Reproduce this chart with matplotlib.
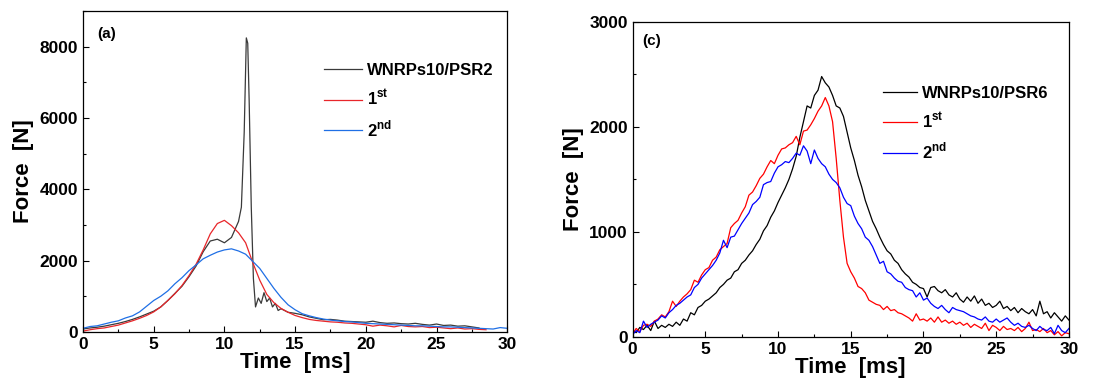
import numpy as np
import matplotlib
matplotlib.use("Agg")
import matplotlib.pyplot as plt
from matplotlib.ticker import MultipleLocator

plt.rcParams['font.family'] = ['Liberation Sans', 'DejaVu Sans']
plt.rcParams['font.weight'] = 'bold'
plt.rcParams['mathtext.fontset'] = 'custom'
plt.rcParams['mathtext.bf'] = 'Liberation Sans:bold'
plt.rcParams['mathtext.rm'] = 'Liberation Sans:bold'

# ---- panel (a) data ----
a_black_t = [0, 0.5, 1, 1.5, 2, 2.5, 3, 3.5, 4, 4.5, 5, 5.5, 6, 6.5, 7, 7.5, 8, 8.5,
             9, 9.5, 10, 10.5, 11, 11.2, 11.4, 11.55, 11.65, 11.75, 11.9, 12.05, 12.2,
             12.4, 12.6, 12.8, 13, 13.2, 13.4, 13.6, 13.8, 14, 14.5, 15, 15.5, 16, 16.5,
             17, 17.5, 18, 18.5, 19, 19.5, 20, 20.5, 21, 21.5, 22, 22.5, 23, 23.5, 24,
             24.5, 25, 25.5, 26, 26.5, 27, 27.5, 28]
a_black = [80, 110, 130, 160, 200, 240, 290, 350, 420, 500, 580, 700, 880, 1080, 1280,
           1550, 1850, 2250, 2550, 2600, 2500, 2650, 3100, 3500, 5600, 8250, 8100, 6500,
           3500, 1500, 700, 950, 800, 1100, 850, 950, 700, 800, 600, 650, 550, 520, 480,
           420, 380, 340, 350, 330, 300, 290, 280, 270, 300, 260, 240, 250, 230, 220, 240,
           210, 190, 220, 180, 190, 160, 170, 140, 110]
# 0.5 ms steps
a_red = [20, 60, 90, 110, 150, 190, 250, 310, 380, 460, 560, 700, 880, 1070, 1300, 1580,
         1900, 2300, 2750, 3040, 3130, 2980, 2780, 2500, 1950, 1450, 1050, 820, 660, 550,
         460, 400, 350, 320, 300, 280, 270, 250, 240, 220, 200, 160, 190, 170, 140, 180,
         150, 140, 150, 120, 130, 110, 90, 110, 80, 90, 70, 60]
a_blue = [100, 150, 170, 220, 270, 310, 390, 450, 560, 720, 880, 1000, 1150, 1350, 1520,
          1720, 1880, 2050, 2150, 2240, 2300, 2330, 2270, 2180, 1980, 1780, 1500, 1220,
          970, 760, 620, 510, 450, 400, 360, 330, 310, 290, 280, 260, 240, 230, 220, 210,
          200, 190, 180, 170, 170, 160, 150, 140, 140, 130, 120, 110, 100, 90, 80, 120, 100]

# ---- panel (c) data, 0.25 ms steps ----
c_black = [60, 40, 90, 70, 110, 60, 150, 80, 110, 90, 120, 100, 140, 110, 170, 150, 230,
           210, 280, 300, 340, 360, 390, 420, 470, 500, 540, 560, 620, 640, 700, 730, 780,
           820, 880, 930, 1010, 1060, 1140, 1200, 1280, 1350, 1420, 1500, 1600, 1720, 1900,
           2050, 2200, 2180, 2300, 2350, 2480, 2420, 2380, 2300, 2200, 2180, 2100, 1950,
           1800, 1680, 1540, 1430, 1300, 1200, 1100, 1030, 950, 880, 820, 790, 730, 700,
           640, 600, 570, 520, 500, 470, 460, 380, 470, 480, 440, 420, 450, 400, 380, 420,
           360, 330, 380, 340, 390, 320, 360, 300, 320, 280, 300, 340, 270, 290, 250, 280,
           230, 270, 240, 220, 260, 200, 340, 220, 240, 180, 230, 190, 150, 200, 160]
c_red = [30, 80, 50, 110, 120, 100, 150, 170, 210, 190, 240, 340, 290, 340, 380, 410, 450,
         540, 520, 590, 640, 660, 730, 760, 830, 860, 890, 1040, 1080, 1110, 1180, 1240,
         1350, 1380, 1440, 1510, 1550, 1620, 1680, 1650, 1730, 1790, 1800, 1830, 1850, 1910,
         1830, 1960, 1970, 2020, 2080, 2150, 2200, 2280, 2200, 2050, 1700, 1300, 950, 700,
         620, 560, 480, 460, 420, 350, 330, 310, 300, 260, 290, 250, 260, 230, 220, 200,
         180, 150, 220, 160, 170, 150, 180, 140, 190, 140, 160, 130, 150, 120, 140, 110,
         130, 90, 120, 100, 80, 130, 60, 110, 90, 60, 100, 70, 80, 60, 90, 50, 80, 140, 60,
         70, 50, 80, 40, 60, 20, 50, 10, 40, 30]
c_blue = [20, 60, 40, 150, 90, 120, 140, 160, 200, 180, 230, 260, 300, 320, 350, 380, 400,
          470, 500, 560, 600, 640, 680, 730, 800, 920, 850, 950, 960, 1020, 1080, 1130, 1180,
          1260, 1290, 1330, 1450, 1470, 1480, 1560, 1620, 1640, 1670, 1660, 1700, 1750, 1730,
          1820, 1770, 1650, 1780, 1700, 1650, 1620, 1550, 1500, 1470, 1420, 1330, 1270, 1250,
          1150, 1080, 1030, 950, 920, 860, 780, 700, 720, 620, 600, 560, 530, 520, 470, 450,
          440, 380, 420, 350, 370, 320, 290, 270, 300, 260, 230, 280, 260, 250, 240, 220,
          200, 190, 170, 160, 190, 150, 140, 170, 140, 160, 180, 140, 110, 130, 100, 90, 110,
          80, 60, 100, 70, 60, 90, 30, 110, 60, 40, 80]

labels_a = ['WNRPs10/PSR2', r'1$^{\mathbf{st}}$', r'2$^{\mathbf{nd}}$']
labels_c = ['WNRPs10/PSR6', r'1$^{\mathbf{st}}$', r'2$^{\mathbf{nd}}$']

fig = plt.figure(figsize=(11.02, 3.85), dpi=100)
ax1 = fig.add_axes([0.0753, 0.138, 0.385, 0.833])
ax2 = fig.add_axes([0.574, 0.125, 0.396, 0.818])

ax1.plot(a_black_t, a_black, color='#3a3a3a', lw=0.9, label=labels_a[0])
ax1.plot(np.arange(len(a_red)) * 0.5, a_red, color='#e8262a', lw=0.9, label=labels_a[1])
ax1.plot(np.arange(len(a_blue)) * 0.5, a_blue, color='#1f6fe5', lw=0.9, label=labels_a[2])

ax2.plot(np.arange(len(c_black)) * 0.25, c_black, color='black', lw=0.9, label=labels_c[0])
ax2.plot(np.arange(len(c_red)) * 0.25, c_red, color='#ff0000', lw=0.9, label=labels_c[1])
ax2.plot(np.arange(len(c_blue)) * 0.25, c_blue, color='#0000ff', lw=0.9, label=labels_c[2])

ax1.set_ylim(0, 9000)
ax1.yaxis.set_major_locator(MultipleLocator(2000))
ax1.yaxis.set_minor_locator(MultipleLocator(1000))
ax2.set_ylim(0, 3000)
ax2.yaxis.set_major_locator(MultipleLocator(1000))
ax2.yaxis.set_minor_locator(MultipleLocator(500))

for ax in (ax1, ax2):
    ax.set_xlim(0, 30)
    ax.xaxis.set_major_locator(MultipleLocator(5))
    ax.xaxis.set_minor_locator(MultipleLocator(2.5))
    ax.tick_params(which='both', direction='in', top=False, right=False, labelsize=12.5)
    ax.tick_params(which='major', length=4, width=0.8)
    ax.tick_params(which='minor', length=2.5, width=0.8)
    for lab in ax.get_xticklabels() + ax.get_yticklabels():
        lab.set_fontweight('bold')
    ax.set_xlabel('Time  [ms]', fontsize=16, fontweight='bold', labelpad=0)
    ax.set_ylabel('Force  [N]', fontsize=16, fontweight='bold', labelpad=4)
    for s in ax.spines.values():
        s.set_linewidth(0.9)

ax1.text(0.033, 0.93, '(a)', transform=ax1.transAxes, fontsize=11, fontweight='bold', va='center')
ax2.text(0.023, 0.94, '(c)', transform=ax2.transAxes, fontsize=11, fontweight='bold', va='center')

ax1.legend(loc='upper left', bbox_to_anchor=(0.533, 0.885), frameon=False, fontsize=12,
           handlelength=2.3, handletextpad=0.3, labelspacing=0.6)
ax2.legend(loc='upper left', bbox_to_anchor=(0.54, 0.845), frameon=False, fontsize=12,
           handlelength=2.0, handletextpad=0.3, labelspacing=0.6)

fig.savefig('out.png', dpi=100)
